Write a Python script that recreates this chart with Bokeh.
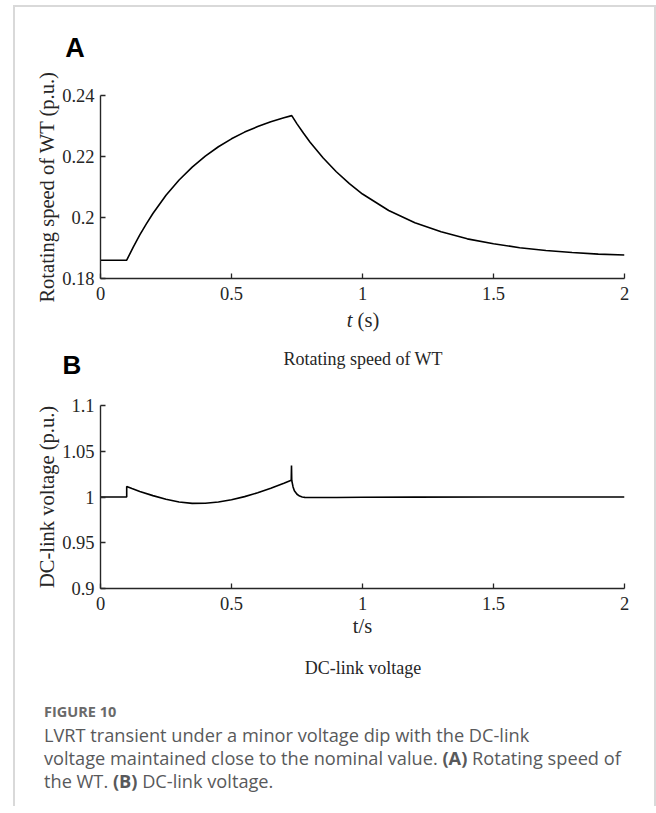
from bokeh.plotting import figure
from bokeh.models import Range1d, FixedTicker, Div
from bokeh.layouts import column
from bokeh.embed import file_html
from bokeh.resources import INLINE

# ---------------- data ----------------
t_speed = [0.0, 0.1, 0.125, 0.15, 0.175, 0.2, 0.25, 0.3, 0.35, 0.4, 0.45, 0.5,
           0.55, 0.6, 0.65, 0.7, 0.73, 0.75, 0.775, 0.8, 0.85, 0.9, 0.95, 1.0,
           1.1, 1.2, 1.3, 1.4, 1.5, 1.6, 1.7, 1.8, 1.9, 2.0]
speed = [0.186, 0.186, 0.1903, 0.1943, 0.1979, 0.2013, 0.2073, 0.2123, 0.2165,
         0.2201, 0.2232, 0.2258, 0.2280, 0.2298, 0.2314, 0.2327, 0.2334, 0.2307,
         0.2276, 0.2247, 0.2195, 0.2150, 0.2111, 0.2077, 0.2023, 0.1983, 0.1953,
         0.1930, 0.1914, 0.1901, 0.1892, 0.1885, 0.1880, 0.1877]

t_dc = [0.0, 0.1, 0.1, 0.12, 0.15, 0.2, 0.25, 0.3, 0.35, 0.4, 0.45, 0.5, 0.55,
        0.6, 0.65, 0.7, 0.728, 0.729, 0.73, 0.735, 0.74, 0.75, 0.76, 0.77, 0.78,
        0.8, 0.9, 1.0, 1.2, 1.5, 2.0]
dc = [1.0, 1.0, 1.0115, 1.0092, 1.0060, 1.0015, 0.9976, 0.9946, 0.9930, 0.9931,
      0.9945, 0.9970, 1.0004, 1.0046, 1.0095, 1.0150, 1.0182, 1.0345, 1.0180,
      1.0110, 1.0068, 1.0030, 1.0010, 1.0000, 0.9996, 0.9994, 0.9995, 0.9997,
      0.9999, 1.0, 1.0]

x_ticks = [0, 0.5, 1, 1.5, 2]
x_tick_labels = ["0", "0.5", "1", "1.5", "2"]
yA_ticks = [0.18, 0.2, 0.22, 0.24]
yA_tick_labels = ["0.18", "0.2", "0.22", "0.24"]
yB_ticks = [0.9, 0.95, 1.0, 1.05, 1.1]
yB_tick_labels = ["0.9", "0.95", "1", "1.05", "1.1"]

SERIF = "Liberation Serif"
SANS = "Open Sans"
AXC = "#262626"
BORDER = "2px solid #d9d9d9"

W = 639
FL = 85   # frame left inside figure
FW = 524  # frame width
FH = 183  # frame height


def make_panel(height, top, y0, y1, yticks, ylabels, ylabel, xlabel=""):
    p = figure(width=W, height=height, output_backend="svg", toolbar_location=None,
               x_range=Range1d(0, 2), y_range=Range1d(y0, y1),
               frame_width=FW, frame_height=FH,
               min_border_left=FL, min_border_right=W - FL - FW,
               min_border_top=top, min_border_bottom=height - top - FH)
    p.grid.visible = False
    p.outline_line_color = None
    for ax in (p.xaxis[0], p.yaxis[0]):
        ax.axis_line_color = AXC
        ax.axis_line_width = 1.4
        ax.major_tick_line_color = AXC
        ax.major_tick_line_width = 1.3
        ax.major_tick_in = 5
        ax.major_tick_out = 0
        ax.minor_tick_line_color = None
        ax.major_label_text_font = SERIF
        ax.major_label_text_font_size = "18.5px"
        ax.major_label_text_color = AXC
        ax.axis_label_text_font = SERIF
        ax.axis_label_text_font_style = "normal"
        ax.axis_label_text_font_size = "20.5px"
        ax.axis_label_text_color = AXC
    p.xaxis.ticker = FixedTicker(ticks=x_ticks)
    p.xaxis.major_label_overrides = dict(zip(x_ticks, x_tick_labels))
    p.xaxis.major_label_standoff = 8
    p.xaxis.axis_label = xlabel
    p.xaxis.axis_label_standoff = 2
    p.yaxis.ticker = FixedTicker(ticks=yticks)
    p.yaxis.major_label_overrides = dict(zip(yticks, ylabels))
    p.yaxis.major_label_standoff = 6
    p.yaxis.axis_label = ylabel
    p.yaxis.axis_label_standoff = 1
    return p


def span(x, y, html, font=SERIF, size="18px", weight="normal", color=AXC,
         center=True):
    tx = "-50%" if center else "0"
    return ('<span style="position:absolute;left:%spx;top:%spx;'
            'transform:translate(%s,-50%%);white-space:nowrap;line-height:1;'
            'font-family:\'%s\';font-size:%s;font-weight:%s;color:%s">%s</span>'
            % (x, y, tx, font, size, weight, color, html))


def text_strip(height, spans):
    html = ('<div style="position:relative;width:%dpx;height:%dpx;overflow:visible">'
            % (W, height)) + "".join(spans) + "</div>"
    return Div(text=html, width=W, height=height, margin=0)


# ---- strip with panel letter A ----  page 7..62
dA = text_strip(55, [span(60, 41, "A", font="Liberation Sans", size="27px",
                          weight="bold", color="black")])

# ---- panel A ----  page 62..308, frame 95..278
pA = make_panel(246, 33, 0.18, 0.24, yA_ticks, yA_tick_labels,
                "Rotating speed of WT (p.u.)")
pA.line(t_speed, speed, line_color="black", line_width=1.6)

# ---- strip between panels ----  page 308..385
dM = text_strip(77, [
    span(348, 12, "<i>t</i> (s)", size="20.5px"),
    span(348, 51, "Rotating speed of WT", size="18px"),
    span(57, 57, "B", font="Liberation Sans", size="26px", weight="bold",
         color="black"),
])

# ---- panel B ----  page 385..645, frame 405..588
pB = make_panel(260, 20, 0.9, 1.1, yB_ticks, yB_tick_labels,
                "DC-link voltage (p.u.)", xlabel="t/s")
pB.line(t_dc, dc, line_color="black", line_width=1.6)

# ---- caption ----  page 645..806
CAPC = "#58595b"
CF = "18.2px"
dC = text_strip(161, [
    span(348, 23, "DC-link voltage", size="18px"),
    span(29, 67, "FIGURE 10", font=SANS, size="14.5px", weight="bold",
         color="#6a6a6a", center=False),
    span(29, 90, "LVRT transient under a minor voltage dip with the DC-link",
         font=SANS, size=CF, color=CAPC, center=False),
    span(29, 113, "voltage maintained close to the nominal value. "
         "<b>(A)</b> Rotating speed of", font=SANS, size=CF, color=CAPC,
         center=False),
    span(29, 136, "the WT. <b>(B)</b> DC-link voltage.", font=SANS, size=CF,
         color=CAPC, center=False),
])

layout = column(dA, pA, dM, pB, dC, spacing=0, margin=(5, 0, 0, 13),
                styles={"border-left": BORDER, "border-top": BORDER,
                        "border-right": BORDER})

open("out.html", "w").write(file_html(layout, INLINE))
